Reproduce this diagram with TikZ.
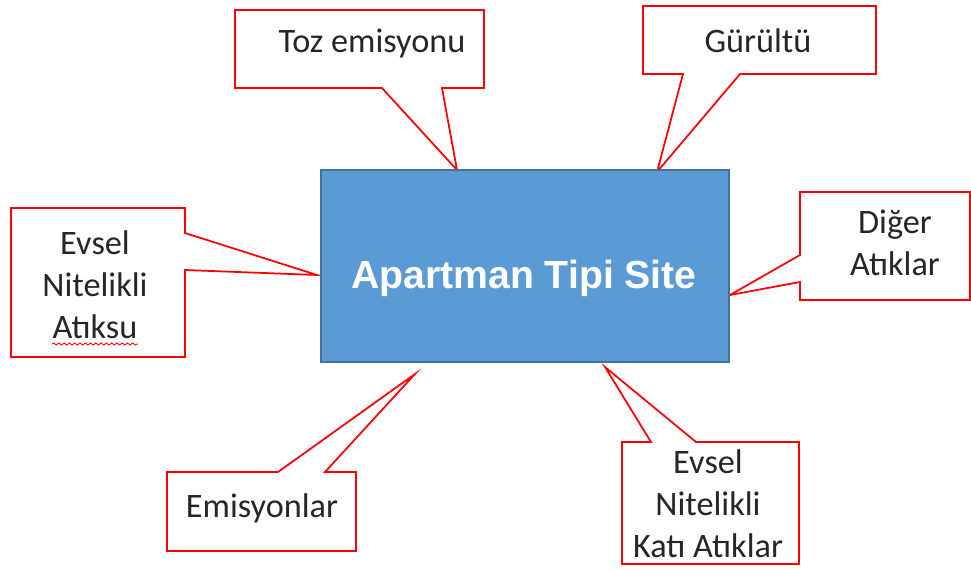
\documentclass[tikz,border=0pt]{standalone}
\usepackage{fontspec}
\setmainfont{Carlito}
\newfontfamily\headfont{Liberation Sans}
\usetikzlibrary{decorations.pathmorphing}

\definecolor{siteblue}{HTML}{5B9BD5}
\definecolor{siteedge}{HTML}{41719C}
\definecolor{calltext}{HTML}{262626}

\tikzset{
  callout/.style={draw=red, line width=1pt, fill=white, line join=miter},
  sitebox/.style={draw=siteedge, fill=siteblue, line width=0.7pt, minimum width=8.16cm, minimum height=3.84cm, inner sep=0pt},
  sitetext/.style={font=\headfont\bfseries\fontsize{22.3}{26}\selectfont, text=white, inner sep=0pt},
  calltxt/.style={font=\fontsize{19.5}{23.8}\selectfont, text=calltext, align=center, inner sep=0pt},
  squiggle/.style={draw=red, line width=0.5pt, decorate, decoration={snake, amplitude=0.6pt, segment length=3pt}},
}

\begin{document}
\begin{tikzpicture}[x=0.02cm, y=-0.02cm]
  \useasboundingbox (0,0) rectangle (971,569);

  % callout frames, pointers run to the site box
  \draw[callout] (235,10) -- (484,10) -- (484,88) -- (442,88) -- (457,170) -- (382,88) -- (235,88) -- cycle;
  \draw[callout] (643,6) -- (876,6) -- (876,74) -- (740,74) -- (657,172) -- (683,74) -- (643,74) -- cycle;
  \draw[callout] (11,208) -- (185,208) -- (185,233) -- (317,275) -- (185,270) -- (185,357) -- (11,357) -- cycle;
  \draw[callout] (800,192) -- (970,192) -- (970,300) -- (800,300) -- (800,282) -- (730,295) -- (800,255) -- cycle;
  \draw[callout] (167,472) -- (278,472) -- (415,374) -- (325,472) -- (356,472) -- (356,551) -- (167,551) -- cycle;
  \draw[callout] (622,442) -- (651,442) -- (605,367) -- (696,442) -- (799,442) -- (799,564) -- (622,564) -- cycle;

  % the site itself
  \node[sitebox] (site) at (525,266) {};
  \node[sitetext, anchor=base] (sitelabel) at (524,288) {Apartman Tipi Site};

  % callout texts (base = last line)
  \node[calltxt, anchor=base] (toz) at (372,52) {Toz emisyonu};
  \node[calltxt, anchor=base] (gurultu) at (758,52) {Gürültü};
  \node[calltxt, anchor=base] (atiksu) at (95,338) {Evsel\\Nitelikli\\Atıksu};
  \node[calltxt, anchor=base] (diger) at (895,275) {Diğer\\Atıklar};
  \node[calltxt, anchor=base] (emisyon) at (262,517) {Emisyonlar};
  \node[calltxt, anchor=base] (kati) at (708,557) {Evsel\\Nitelikli\\Katı Atıklar};

  \draw[squiggle] (52,344) -- (138,344);
\end{tikzpicture}
\end{document}
